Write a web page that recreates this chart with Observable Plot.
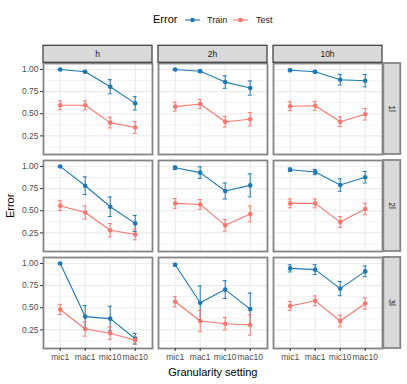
<!DOCTYPE html>
<html><head><meta charset="utf-8">
<script src="https://cdn.jsdelivr.net/npm/d3@7"></script>
<script src="https://cdn.jsdelivr.net/npm/@observablehq/plot@0.6"></script>
<style>
body{margin:0;background:#fff;font-family:"Liberation Sans",Arial,sans-serif;}
#wrap{position:relative;width:407px;height:384px;overflow:hidden;}
#legend{position:absolute;left:0;top:0;width:407px;height:40px;}
#legend span{position:absolute;white-space:nowrap;}
#chart{position:absolute;left:0;top:40px;}
</style></head><body>
<div id="wrap"><div id="legend"></div><div id="chart"></div></div>
<script>
const cols = ["h","2h","10h"];
const rows = ["1l","2l","3l"];
const settings = ["mic1","mac1","mic10","mac10"];
const series = ["Train","Test"];
const colors = ["#1f78b4","#f8766d"];
// panels in row-major order: (1l,h) (1l,2h) (1l,10h) (2l,h) ...
const trainMean = [
  [1.00,0.974,0.805,0.617],[1.00,0.980,0.857,0.790],[0.990,0.974,0.884,0.873],
  [1.00,0.782,0.545,0.357],[0.985,0.930,0.723,0.786],[0.963,0.937,0.790,0.878],
  [1.00,0.400,0.377,0.150],[0.985,0.556,0.705,0.485],[0.944,0.930,0.716,0.910]];
const trainErr = [
  [0.005,0.012,0.080,0.075],[0.008,0.015,0.070,0.080],[0.015,0.015,0.060,0.070],
  [0.005,0.100,0.110,0.090],[0.020,0.065,0.090,0.130],[0.020,0.030,0.070,0.065],
  [0.005,0.125,0.140,0.060],[0.015,0.190,0.100,0.180],[0.040,0.055,0.080,0.060]];
const testMean = [
  [0.595,0.595,0.400,0.344],[0.580,0.610,0.410,0.438],[0.584,0.590,0.410,0.494],
  [0.557,0.480,0.280,0.232],[0.583,0.571,0.335,0.464],[0.583,0.583,0.372,0.520],
  [0.480,0.260,0.213,0.134],[0.567,0.350,0.320,0.306],[0.520,0.578,0.350,0.548]];
const testErr = [
  [0.050,0.050,0.060,0.065],[0.050,0.050,0.060,0.075],[0.050,0.050,0.055,0.065],
  [0.055,0.075,0.075,0.060],[0.055,0.055,0.065,0.090],[0.050,0.050,0.060,0.065],
  [0.058,0.080,0.070,0.045],[0.057,0.120,0.070,0.115],[0.050,0.055,0.065,0.063]];
const yMajor = [0.25,0.50,0.75,1.00];
const yMinor = [0.125,0.375,0.625,0.875];

const data = [];
rows.forEach((r,ri)=>cols.forEach((c,ci)=>{
  const p = ri*3+ci;
  settings.forEach((s,si)=>{
    data.push({row:r,col:c,setting:s,type:"Train",mean:trainMean[p][si],err:trainErr[p][si]});
  });
  settings.forEach((s,si)=>{
    data.push({row:r,col:c,setting:s,type:"Test",mean:testMean[p][si],err:testErr[p][si]});
  });
}));

const W=407,H=344,mT=22.3,mB=34.6,mL=42.3,mR=23.7;
const fac = {fx:"col", fy:"row"};
const chart = Plot.plot({
  width:W,height:H,marginTop:mT,marginBottom:mB,marginLeft:mL,marginRight:mR,
  style:{fontFamily:"'Liberation Sans',Arial,sans-serif",fontSize:"8.5px",background:"#fff",overflow:"visible"},
  fx:{domain:cols,axis:null,paddingInner:0.05,paddingOuter:0},
  fy:{domain:rows,axis:null,paddingInner:0.062,paddingOuter:0},
  x:{type:"point",domain:settings,padding:0.6},
  y:{domain:[0.04,1.067]},
  color:{domain:series,range:colors},
  marks:[
    Plot.gridY(yMinor,{stroke:"#ebebeb",strokeOpacity:1,strokeWidth:0.6}),
    Plot.gridY(yMajor,{stroke:"#ebebeb",strokeOpacity:1,strokeWidth:1.1}),
    Plot.gridX(settings,{stroke:"#ebebeb",strokeOpacity:1,strokeWidth:1.1}),
    Plot.line(data,{...fac,x:"setting",y:"mean",z:"type",stroke:"type",strokeWidth:1.1}),
    Plot.ruleX(data,{...fac,x:"setting",y1:d=>d.mean-d.err,y2:d=>d.mean+d.err,stroke:"type",strokeWidth:1}),
    Plot.ruleY(data,{...fac,x1:"setting",x2:"setting",y:d=>d.mean+d.err,stroke:"type",strokeWidth:1,insetLeft:-2,insetRight:-2}),
    Plot.ruleY(data,{...fac,x1:"setting",x2:"setting",y:d=>d.mean-d.err,stroke:"type",strokeWidth:1,insetLeft:-2,insetRight:-2}),
    Plot.dot(data,{...fac,x:"setting",y:"mean",fill:"type",r:2.3}),
    Plot.frame({stroke:"#858585",strokeWidth:1.8}),
    Plot.axisX({tickSize:3,tickPadding:2,label:null,stroke:"#333",fill:"#4d4d4d"}),
    Plot.axisY(yMajor,{tickSize:3,tickPadding:2,label:null,tickFormat:d3.format(".2f"),stroke:"#333",fill:"#4d4d4d"})
  ]
});
document.getElementById("chart").appendChild(chart);

// strips and titles
const svg = d3.select(chart);
const sfx = chart.scale("fx"), sfy = chart.scale("fy");
const bwx = sfx.bandwidth, bwy = sfy.bandwidth;
const S = 17;
const g = svg.append("g");
cols.forEach(c=>{
  const x = sfx.apply(c);
  g.append("rect").attr("x",x).attr("y",mT-S).attr("width",bwx).attr("height",S)
    .attr("fill","#d9d9d9").attr("stroke","#444").attr("stroke-width",1.3);
  g.append("text").attr("x",x+bwx/2).attr("y",mT-S/2).attr("dy","0.35em")
    .attr("text-anchor","middle").attr("fill","#1a1a1a").style("font-size","8.5px").text(c);
});
rows.forEach(r=>{
  const y = sfy.apply(r);
  const x = W-mR;
  g.append("rect").attr("x",x).attr("y",y).attr("width",S).attr("height",bwy)
    .attr("fill","#d9d9d9").attr("stroke","#858585").attr("stroke-width",1.8);
  g.append("text").attr("transform",`translate(${x+S/2},${y+bwy/2}) rotate(90)`).attr("dy","0.35em")
    .attr("text-anchor","middle").attr("fill","#1a1a1a").style("font-size","8.5px").text(r);
});
svg.append("text").attr("x",(mL+W-mR)/2).attr("y",336).attr("text-anchor","middle")
  .attr("fill","#000").style("font-size","11px").text("Granularity setting");
svg.append("text").attr("transform",`translate(14,${(mT+H-mB)/2}) rotate(-90)`).attr("text-anchor","middle")
  .attr("fill","#000").style("font-size","11px").text("Error");

// legend
const leg = document.getElementById("legend");
function span(text,left,size,color){const s=document.createElement("span");s.textContent=text;s.style.left=left+"px";s.style.top=(20-size*0.6)+"px";s.style.fontSize=size+"px";s.style.color=color;leg.appendChild(s);}
span("Error",153,11,"#000");
const lsvg = d3.select(leg).append("svg").attr("width",407).attr("height",40).style("position","absolute").style("left","0").style("top","0");
[[185,0],[233,1]].forEach(([x0,i])=>{
  lsvg.append("line").attr("x1",x0).attr("x2",x0+15).attr("y1",20).attr("y2",20).attr("stroke",colors[i]).attr("stroke-width",1.1);
  lsvg.append("circle").attr("cx",x0+7.5).attr("cy",20).attr("r",2.3).attr("fill",colors[i]);
});
span("Train",207,9,"#1a1a1a");
span("Test",256,9,"#1a1a1a");
</script></body></html>
